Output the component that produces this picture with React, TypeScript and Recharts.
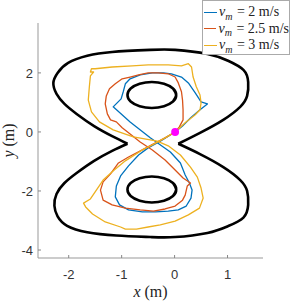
import { ComposedChart, Line, XAxis, YAxis, Legend, ReferenceDot } from "recharts";

const xTicks = [-2, -1, 0, 1];
const yTicks = [-4, -2, 0, 2];

const speeds = ["2 m/s", "2.5 m/s", "3 m/s"];
const colors = ["#0072BD", "#D95319", "#EDB120"];

// track walls (upper and lower lobe, pinch to pinch)
const upperWallX = [0.07, 0.48, 0.92, 1.24, 1.37, 1.39, 1.3, 1.01, 0.62, 0.01, -0.46, -1.18, -1.65, -2.01, -2.21, -2.29, -2.23, -2.08, -1.85, -1.52, -1.18, -0.89];
const upperWallY = [-0.4, -0.03, 0.41, 0.85, 1.22, 1.69, 2.1, 2.41, 2.64, 2.78, 2.78, 2.71, 2.58, 2.34, 2.0, 1.66, 1.29, 0.95, 0.61, 0.2, -0.14, -0.4];
const lowerWallX = [0.07, 0.48, 0.92, 1.24, 1.37, 1.39, 1.3, 1.01, 0.62, 0.01, -0.46, -1.1, -1.65, -2.03, -2.21, -2.27, -2.23, -2.08, -1.85, -1.52, -1.18, -0.89];
const lowerWallY = [-0.4, -0.75, -1.19, -1.63, -2.0, -2.47, -2.9, -3.19, -3.42, -3.56, -3.56, -3.51, -3.4, -3.18, -2.86, -2.5, -2.1, -1.73, -1.39, -0.98, -0.64, -0.4];

// inner obstacles
const topHoleX = [-0.03, 0.03, -0.03, -0.2, -0.43, -0.66, -0.83, -0.89, -0.83, -0.66, -0.43, -0.2, -0.03, 0.03, -0.03];
const topHoleY = [1.03, 1.25, 1.47, 1.63, 1.69, 1.63, 1.47, 1.25, 1.03, 0.87, 0.81, 0.87, 1.03, 1.25, 1.47];
const bottomHoleX = [-0.03, 0.03, -0.03, -0.2, -0.43, -0.66, -0.83, -0.89, -0.83, -0.66, -0.43, -0.2, -0.03, 0.03, -0.03];
const bottomHoleY = [-2.17, -1.95, -1.73, -1.57, -1.51, -1.57, -1.73, -1.95, -2.17, -2.33, -2.39, -2.33, -2.17, -1.95, -1.73];

// v = 2 m/s
const blueX = [0.01, -0.27, -0.5, -0.68, -0.87, -1.02, -1.1, -1.12, -1.04, -0.87, -0.61, -0.36, -0.12, 0.07, 0.22, 0.31, 0.33, 0.28, 0.2, 0.11, -0.08, -0.46, -0.84, -1.16, -1.01, -0.97, -0.93, -0.84, -0.65, -0.42, -0.21, -0.06, 0.13, 0.26, 0.39, 0.5, 0.62, 0.48, 0.3, 0.15, 0.01];
const blueY = [0.0, -0.31, -0.54, -0.78, -1.15, -1.49, -1.83, -2.2, -2.47, -2.64, -2.71, -2.71, -2.68, -2.64, -2.51, -2.24, -1.97, -1.73, -1.46, -1.05, -0.68, -0.2, 0.34, 0.85, 1.12, 1.36, 1.63, 1.8, 1.93, 2.0, 2.0, 1.97, 1.86, 1.66, 1.32, 1.02, 0.95, 0.75, 0.47, 0.2, 0.0];

// v = 2.5 m/s
const orangeX = [0.01, 0.09, 0.16, 0.16, 0.15, 0.13, 0.07, 0.01, -0.12, -0.31, -0.5, -0.68, -0.84, -0.99, -1.12, -1.23, -1.29, -1.31, -1.27, -1.21, -1.1, -0.99, -0.87, -0.65, -0.42, -0.18, 0.01, 0.16, 0.3, 0.24, 0.2, 0.15, 0.01, -0.18, -0.4, -0.65, -0.93, -1.18, -1.35, -1.4, -1.35, -1.21, -1.06, -0.87, -0.61, -0.36, -0.18, 0.01];
const orangeY = [0.0, 0.17, 0.41, 0.75, 1.08, 1.36, 1.66, 1.86, 1.97, 2.0, 2.0, 1.93, 1.86, 1.8, 1.63, 1.46, 1.22, 0.95, 0.61, 0.41, 0.34, 0.14, -0.03, -0.34, -0.61, -0.95, -1.29, -1.56, -1.73, -1.83, -2.14, -2.31, -2.51, -2.61, -2.68, -2.64, -2.58, -2.47, -2.31, -1.97, -1.69, -1.42, -1.05, -0.85, -0.61, -0.37, -0.2, 0.0];

// v = 3 m/s
const yellowX = [0.01, 0.2, 0.39, 0.48, 0.5, 0.48, 0.41, 0.35, 0.32, 0.26, 0.13, -0.12, -0.5, -0.8, -1.18, -1.5, -1.57, -1.59, -1.53, -1.59, -1.61, -1.63, -1.57, -1.42, -1.16, -0.78, -0.46, -0.33, -0.12, 0.11, 0.3, 0.43, 0.5, 0.54, 0.47, 0.26, 0.01, -0.27, -0.5, -0.72, -0.93, -1.02, -1.31, -1.55, -1.68, -1.72, -1.59, -1.5, -1.35, -1.14, -0.93, -0.61, -0.42, -0.18, 0.01];
const yellowY = [0.0, 0.31, 0.58, 0.75, 0.98, 1.25, 1.53, 1.86, 2.2, 2.31, 2.24, 2.27, 2.27, 2.24, 2.2, 2.14, 2.14, 2.03, 2.03, 1.9, 1.53, 1.08, 0.68, 0.34, 0.07, -0.17, -0.27, -0.31, -0.47, -0.78, -1.19, -1.53, -1.9, -2.24, -2.58, -2.81, -3.02, -3.15, -3.22, -3.29, -3.29, -3.22, -3.05, -2.78, -2.54, -2.41, -2.27, -2.03, -1.63, -1.29, -0.98, -0.61, -0.44, -0.2, 0.0];

const startX = 0.01;
const startY = 0.0;

const zip = (xs: number[], ys: number[]) => xs.map((x, i) => ({ x, y: ys[i] }));

const walls = [
  zip(upperWallX, upperWallY),
  zip(lowerWallX, lowerWallY),
  zip(topHoleX, topHoleY),
  zip(bottomHoleX, bottomHoleY),
];
const runs = [zip(blueX, blueY), zip(orangeX, orangeY), zip(yellowX, yellowY)];

const tickFont = "'Liberation Sans', Arial, sans-serif";
const mathFont = "'Liberation Serif', 'Times New Roman', serif";

function XTick({ x, y, payload }: any) {
  return (
    <g>
      <line x1={x} x2={x} y1={y - 12} y2={y - 15} stroke="#888" />
      <text x={x} y={y} dy="0.71em" textAnchor="middle" fill="#333" fontSize={13} fontFamily={tickFont}>
        {payload.value}
      </text>
    </g>
  );
}

function YTick({ x, y, payload }: any) {
  return (
    <g>
      <line x1={x + 5} x2={x + 8} y1={y} y2={y} stroke="#888" />
      <text x={x} y={y} dy="0.36em" textAnchor="end" fill="#333" fontSize={13} fontFamily={tickFont}>
        {payload.value}
      </text>
    </g>
  );
}

function SpeedLegend() {
  return (
    <div
      style={{
        width: 88,
        height: 55,
        boxSizing: "border-box",
        border: "1px solid #aaa",
        background: "#fff",
        fontFamily: mathFont,
        fontSize: 14,
        color: "#222",
        paddingTop: 3,
      }}
    >
      {speeds.map((s, i) => (
        <div key={s} style={{ display: "flex", alignItems: "center", height: 16.5, whiteSpace: "nowrap" }}>
          <span style={{ display: "inline-block", width: 13, borderTop: `1.3px solid ${colors[i]}`, marginLeft: 1, marginRight: 2 }} />
          <i>v</i>
          <i style={{ fontSize: 10, position: "relative", top: 4, marginRight: 1 }}>m</i>
          <span>{"\u00a0=\u00a0" + s}</span>
        </div>
      ))}
    </div>
  );
}

export default function App() {
  return (
    <div style={{ width: 291, height: 305, background: "#fff" }}>
      <style>{"body{margin:0}"}</style>
      <ComposedChart width={291} height={305} margin={{ top: 23, right: 28, bottom: 7, left: 8 }}>
        <XAxis
          type="number"
          dataKey="x"
          domain={[-2.58, 1.67]}
          ticks={xTicks}
          allowDataOverflow
          height={40}
          axisLine={{ stroke: "#999" }}
          tickLine={false}
          tickSize={0}
          tickMargin={12}
          tick={<XTick />}
          label={{
            content: ({ viewBox }: any) => (
              <text x={viewBox.x + viewBox.width / 2} y={viewBox.y + 39} textAnchor="middle" fontFamily={mathFont} fontSize={16} fill="#222">
                <tspan fontStyle="italic">x</tspan>
                {" (m)"}
              </text>
            ),
          }}
        />
        <YAxis
          type="number"
          dataKey="y"
          domain={[-4.27, 3.69]}
          ticks={yTicks}
          allowDataOverflow
          width={30}
          axisLine={{ stroke: "#999" }}
          tickLine={false}
          tickSize={0}
          tickMargin={5}
          tick={<YTick />}
          label={{
            content: ({ viewBox }: any) => {
              const cx = 14;
              const cy = viewBox.y + viewBox.height / 2;
              return (
                <text x={cx} y={cy} transform={`rotate(-90, ${cx}, ${cy})`} textAnchor="middle" fontFamily={mathFont} fontSize={16} fill="#222">
                  <tspan fontStyle="italic">y</tspan>
                  {" (m)"}
                </text>
              );
            },
          }}
        />
        {walls.map((d, i) => (
          <Line
            key={`wall-${i}`}
            data={d}
            dataKey="y"
            type="natural"
            stroke="#000"
            strokeWidth={2.6}
            dot={false}
            activeDot={false}
            legendType="none"
            isAnimationActive={false}
          />
        ))}
        {runs.map((d, i) => (
          <Line
            key={`run-${i}`}
            name={speeds[i]}
            data={d}
            dataKey="y"
            type="linear"
            stroke={colors[i]}
            strokeWidth={1.3}
            strokeLinejoin="round"
            dot={false}
            activeDot={false}
            isAnimationActive={false}
          />
        ))}
        <ReferenceDot x={startX} y={startY} r={3.2} fill="#ff00ff" stroke="#ff00ff" strokeWidth={1.5} />
        <Legend
          layout="vertical"
          align="center"
          verticalAlign="middle"
          wrapperStyle={{ top: 0, left: 202, width: 88 }}
          content={() => <SpeedLegend />}
        />
      </ComposedChart>
    </div>
  );
}
